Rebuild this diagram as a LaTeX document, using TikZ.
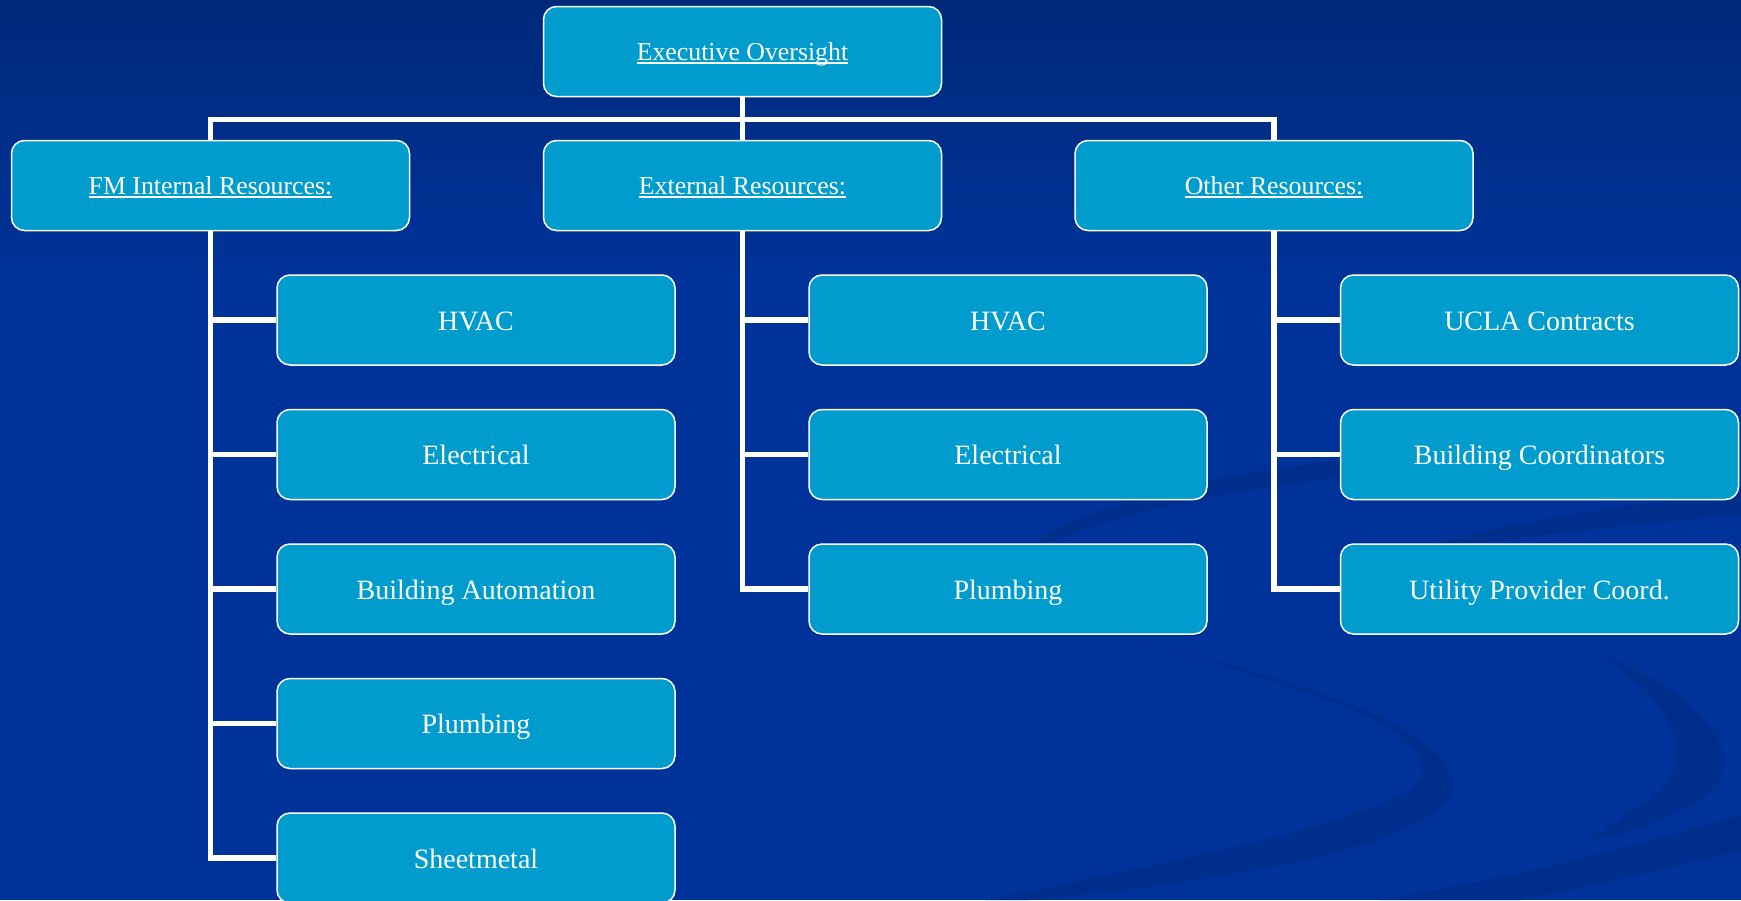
\documentclass[tikz,border=0pt]{standalone}
\usepackage{fontspec}
\setmainfont{Liberation Serif}

\definecolor{slide}{HTML}{003399}
\definecolor{slidetop}{HTML}{00297A}
\definecolor{swirl}{HTML}{002E8C}
\definecolor{boxfill}{HTML}{009CCE}

% underlined heading text, rule a bit below the baseline
\newcommand{\ulabel}[1]{\sbox0{#1}\rlap{\rule[-1.5pt]{\wd0}{1pt}}\usebox0}

\begin{document}
\begin{tikzpicture}[x=0.5pt, y=-0.5pt,
        box/.style={
            % The shape:
            rectangle,
            rounded corners=6.5pt,
            % The size:
            minimum width=199pt,
            minimum height=45pt,
            % The border
            draw=white,
            line width=0.75pt,
            % The filling
            fill=boxfill,
            % Font
            text=white,
            text depth=0pt
        },
        head/.style={box, font=\fontsize{12.9}{15}\selectfont, text height=9.2pt},
        item/.style={box, font=\fontsize{14}{17}\selectfont, text height=10pt},
        link/.style={draw=white, line width=2.75pt}]

        % slide background
        \useasboundingbox (0,0) rectangle (1741,900);
        \clip (0,0) rectangle (1741,900);
        \fill[slide] (0,0) rectangle (1741,900);
        \shade[top color=slidetop, bottom color=slide] (0,0) rectangle (1741,280);

        % darker swirls in the lower right
        \fill[swirl] (1015,560) .. controls (1070,500) and (1250,465) .. (1430,452)
            -- (1435,470) .. controls (1260,480) and (1090,515) .. cycle;
        \fill[swirl] (1410,552) .. controls (1500,522) and (1620,505) .. (1741,492)
            -- (1741,515) .. controls (1620,525) and (1500,540) .. cycle;
        \fill[swirl] (1115,636) .. controls (1320,685) and (1450,730) .. (1452,785)
            .. controls (1452,840) and (1250,880) .. (1030,900) -- (985,900)
            .. controls (1200,855) and (1420,815) .. (1423,770)
            .. controls (1425,725) and (1300,685) .. cycle;
        \fill[swirl] (1600,655) .. controls (1700,690) and (1760,760) .. (1700,800)
            .. controls (1670,820) and (1620,835) .. (1590,840)
            -- (1640,805) .. controls (1690,780) and (1700,720) .. cycle;
        \fill[swirl] (1741,815) .. controls (1620,850) and (1500,880) .. (1380,900)
            -- (1520,900) .. controls (1600,885) and (1680,865) .. (1741,850) -- cycle;

        % top of the chart
        \node[head] (exec) at (742.5,51.5) {\ulabel{Executive Oversight}};

        \foreach \x/\name/\xtext in {210.5/fm/FM Internal Resources:, 742.5/ext/External Resources:, 1274/oth/Other Resources:}
        {
            \node[head] (\name) at (\x,185.5) {\ulabel{\xtext}};
        }

        % trades under each group
        \foreach \i/\y/\xtext in {1/320/HVAC, 2/454.5/Electrical, 3/589/Building Automation, 4/723.5/Plumbing, 5/858/Sheetmetal}
        {
            \node[item] (fm-\i) at (476,\y) {\xtext};
            \draw[link] (fm.south) |- (fm-\i.west);
        }
        \foreach \i/\y/\xtext in {1/320/HVAC, 2/454.5/Electrical, 3/589/Plumbing}
        {
            \node[item] (ext-\i) at (1008,\y) {\xtext};
            \draw[link] (ext.south) |- (ext-\i.west);
        }
        \foreach \i/\y/\xtext in {1/320/UCLA Contracts, 2/454.5/Building Coordinators, 3/589/Utility Provider Coord.}
        {
            \node[item] (oth-\i) at (1539.5,\y) {\xtext};
            \draw[link] (oth.south) |- (oth-\i.west);
        }

        % bus between the top box and the groups
        \coordinate (bus) at (742.5,119.5);
        \draw[link] (exec.south) -- (ext.north);
        \draw[link] (fm.north) |- (bus) -| (oth.north);

    \end{tikzpicture}
\end{document}
